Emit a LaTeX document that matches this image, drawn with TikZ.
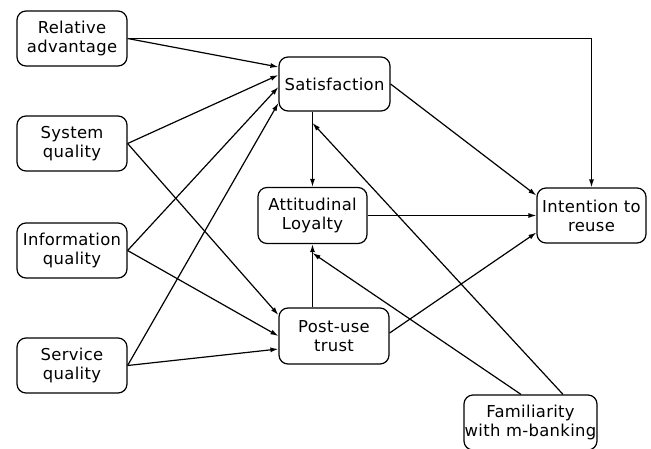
\documentclass[tikz,border=0pt]{standalone}
\usepackage{fontspec}
\setmainfont[LetterSpace=2.0]{DejaVu Sans}
\usetikzlibrary{arrows.meta}
\begin{document}
\begin{tikzpicture}[x=1pt,y=-1pt,
  box/.style={draw, line width=1.2pt, rounded corners=9pt, align=center,
    inner sep=0pt, font=\fontsize{16.4}{19}\selectfont},
  link/.style={line width=1.2pt, -{Latex[length=8pt,width=5pt]}}]
\useasboundingbox (0,0) rectangle (651,448);

% constructs
\node[box, minimum width=110pt, minimum height=55pt] (ra)  at (72,38.5)   {Relative\\advantage};
\node[box, minimum width=110pt, minimum height=55pt] (sq)  at (72,143.5)  {System\\quality};
\node[box, minimum width=110pt, minimum height=55pt] (iq)  at (72,250.5)  {Information\\quality};
\node[box, minimum width=110pt, minimum height=55pt] (svq) at (72,365.5)  {Service\\quality};
\node[box, minimum width=111pt, minimum height=54pt] (sat) at (334.5,84)  {Satisfaction};
\node[box, minimum width=109pt, minimum height=56pt] (al)  at (312.5,215.5) {Attitudinal\\Loyalty};
\node[box, minimum width=110pt, minimum height=56pt] (pt)  at (334,336)   {Post-use\\trust};
\node[box, minimum width=109pt, minimum height=55pt] (ir)  at (591.5,215.5) {Intention to\\reuse};
\node[box, minimum width=133pt, minimum height=55pt] (fam) at (530.5,422.5) {Familiarity\\with m-banking};

% paths into satisfaction
\draw[link] (ra.east)  -- ([yshift=17pt]sat.west);
\draw[link] (sq.east)  -- ([yshift=9pt]sat.west);
\draw[link] (iq.east)  -- ([yshift=-3pt]sat.west);
\draw[link] (svq.east) -- ([yshift=-19pt]sat.west);

% paths into post-use trust
\draw[link] (sq.east)  -- ([yshift=21pt]pt.west);
\draw[link] (iq.east)  -- (pt.west);
\draw[link] (svq.east) -- ([yshift=-13pt]pt.west);

% relative advantage straight to intention
\draw[link] (ra.east) -| (ir.north);

% satisfaction and trust into loyalty
\draw[link] (al.north |- sat.south) -- (al.north);
\draw[link] (al.south |- pt.north) -- (al.south);

% paths into intention to reuse
\draw[link] (sat.east) -- ([yshift=20pt]ir.west);
\draw[link] (al.east) -- (al.east -| ir.west);
\draw[link] ([yshift=3pt]pt.east) -- ([yshift=-17pt]ir.west);

% familiarity moderating the two vertical paths
\coordinate (m1) at (312.5,123);
\coordinate (m2) at (312.5,253);
\draw[link] ([xshift=32.5pt]fam.north) -- (m1);
\draw[link] ([xshift=-9.5pt]fam.north) -- (m2);
\end{tikzpicture}
\end{document}
